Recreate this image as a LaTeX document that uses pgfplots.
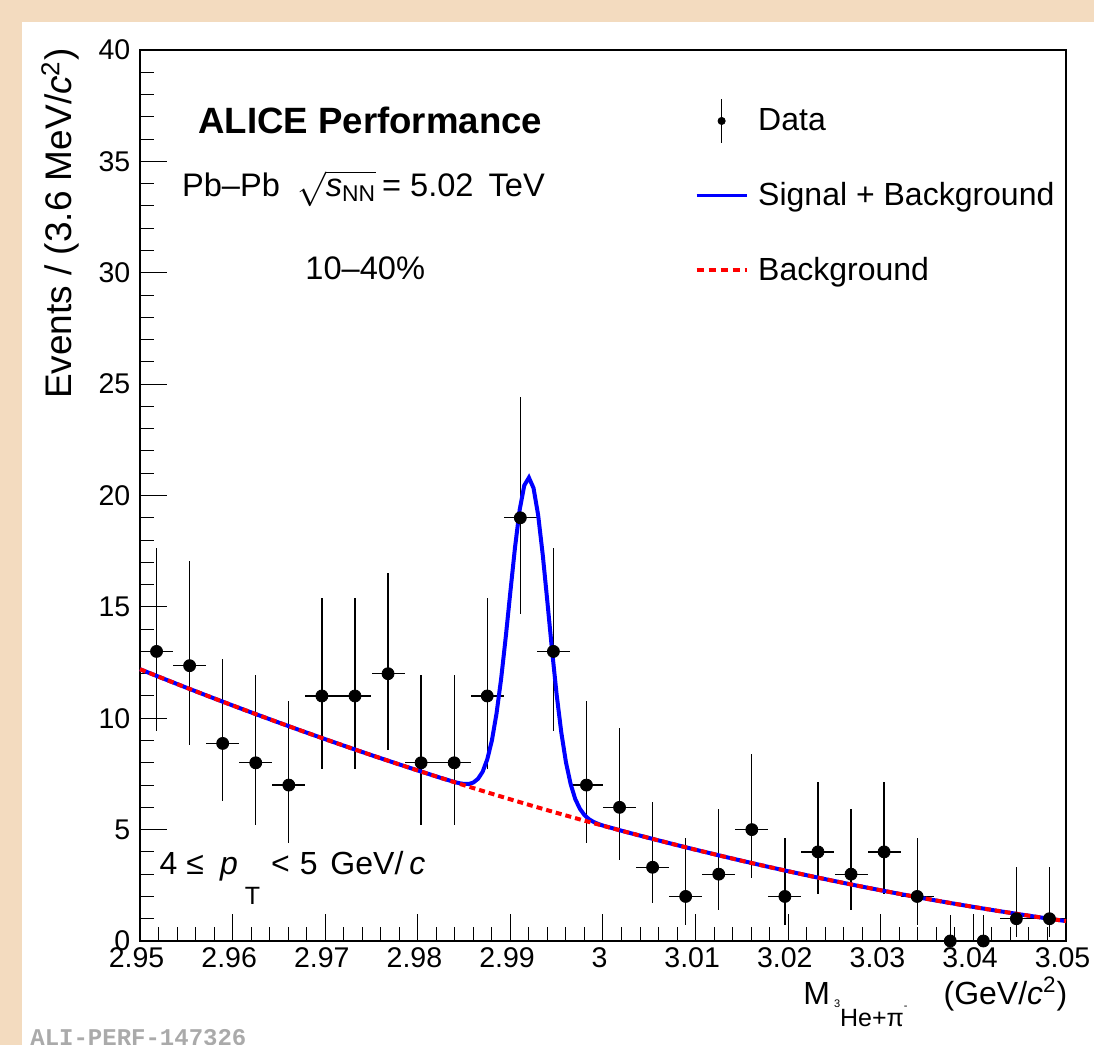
\documentclass[border=0pt]{standalone}
\usepackage{fontspec}
\setmainfont{Liberation Sans}
\newfontfamily\monofont{Liberation Mono}
\usepackage{amsmath}
\usepackage{pgfplots}
\pgfplotsset{compat=1.18}
\usepackage{pgfplotstable}
\definecolor{beige}{RGB}{243,219,191}
\definecolor{aligray}{RGB}{170,170,170}

\pgfplotstableread{
x y ex em ep
2.951786 13.00 0.001786 3.56 4.66
2.955357 12.36 0.001786 3.56 4.70
2.958929 8.87 0.001786 2.57 3.78
2.962500 8.00 0.001786 2.77 3.95
2.966071 7.00 0.001786 2.58 3.77
2.969643 11.00 0.001786 3.27 4.39
2.973214 11.00 0.001786 3.27 4.39
2.976786 12.00 0.001786 3.42 4.53
2.980357 8.00 0.001786 2.77 3.95
2.983929 8.00 0.001786 2.77 3.95
2.987500 11.00 0.001786 3.27 4.39
2.991071 19.00 0.001786 4.32 5.44
2.994643 13.00 0.001786 3.56 4.66
2.998214 7.00 0.001786 2.58 3.77
3.001786 6.00 0.001786 2.38 3.58
3.005357 3.31 0.001786 1.62 2.92
3.008929 2.00 0.001786 1.29 2.64
3.012500 3.00 0.001786 1.63 2.92
3.016071 5.00 0.001786 2.16 3.38
3.019643 2.00 0.001786 1.29 2.64
3.023214 4.00 0.001786 1.91 3.16
3.026786 3.00 0.001786 1.63 2.92
3.030357 4.00 0.001786 1.91 3.16
3.033929 2.00 0.001786 1.29 2.64
3.037500 0.00 0.001786 0.00 1.15
3.041071 0.00 0.001786 0.00 1.15
3.044643 1.00 0.001786 0.83 2.30
3.048214 1.00 0.001786 0.83 2.30
}\datatable

\pgfplotstableread{
x y
2.9500 12.200
2.9525 11.784
2.9550 11.374
2.9575 10.971
2.9600 10.575
2.9625 10.186
2.9650 9.804
2.9675 9.428
2.9700 9.060
2.9725 8.698
2.9750 8.343
2.9775 7.996
2.9800 7.655
2.9825 7.320
2.9850 6.993
2.9875 6.673
2.9900 6.359
2.9925 6.052
2.9950 5.752
2.9975 5.459
3.0000 5.173
3.0025 4.894
3.0050 4.622
3.0075 4.356
3.0100 4.098
3.0125 3.846
3.0150 3.601
3.0175 3.363
3.0200 3.132
3.0225 2.907
3.0250 2.690
3.0275 2.479
3.0300 2.276
3.0325 2.079
3.0350 1.889
3.0375 1.706
3.0400 1.530
3.0425 1.360
3.0450 1.198
3.0475 1.042
3.0500 0.893
}\bkgtable

\pgfplotstableread{
x y
2.9500 12.200
2.9525 11.784
2.9550 11.374
2.9575 10.971
2.9600 10.575
2.9625 10.186
2.9650 9.804
2.9675 9.428
2.9700 9.060
2.9725 8.698
2.9750 8.343
2.9775 7.996
2.9800 7.655
2.9825 7.320
2.9840 7.133
2.9845 7.083
2.9850 7.050
2.9855 7.048
2.9860 7.114
2.9865 7.280
2.9870 7.596
2.9875 8.152
2.9880 8.999
2.9885 10.207
2.9890 11.774
2.9895 13.651
2.9900 15.689
2.9905 17.677
2.9910 19.356
2.9915 20.454
2.9920 20.803
2.9925 20.332
2.9930 19.112
2.9935 17.311
2.9940 15.201
2.9945 13.041
2.9950 11.042
2.9955 9.353
2.9960 8.023
2.9965 7.055
2.9970 6.376
2.9975 5.938
2.9980 5.650
2.9985 5.463
2.9990 5.342
2.9995 5.253
3.0000 5.181
3.0025 4.894
3.0050 4.622
3.0075 4.356
3.0100 4.098
3.0125 3.846
3.0150 3.601
3.0175 3.363
3.0200 3.132
3.0225 2.907
3.0250 2.690
3.0275 2.479
3.0300 2.276
3.0325 2.079
3.0350 1.889
3.0375 1.706
3.0400 1.530
3.0425 1.360
3.0450 1.198
3.0475 1.042
3.0500 0.893
}\sbtable

\begin{document}
\begin{tikzpicture}
\begin{scope}[x=0.5pt,y=-0.5pt,shift={(-70pt,470.5pt)}]
  \fill[beige] (0,0) rectangle (1094,1045);
  \fill[white] (22,22) rectangle (1094,1045);
\end{scope}
\begin{axis}[
  scale only axis, width=463pt, height=445.5pt,
  xmin=2.95, xmax=3.05, ymin=0, ymax=40,
  clip=false,
  axis line style={line width=0.8pt},
  xtick={2.95,2.96,2.97,2.98,2.99,3.00,3.01,3.02,3.03,3.04,3.05},
  xticklabels={2.95,2.96,2.97,2.98,2.99,3,3.01,3.02,3.03,3.04,3.05},
  ytick={0,5,10,15,20,25,30,35,40},
  minor x tick num=4, minor y tick num=4,
  tick align=inside, xtick pos=left, ytick pos=left,
  major tick length=13.5pt, minor tick length=6.8pt,
  every tick/.style={black, line width=0.5pt},
  ticklabel style={font=\fontsize{14.25}{17}\selectfont},
  /pgf/number format/assume math mode=true,
  yticklabel style={xshift=-1.3pt},
  xticklabel style={xshift=-1.7pt},
  scaled x ticks=false,
  legend cell align=left,
  legend style={at={(axis description cs:0.5994,0.9473)}, anchor=north west,
    draw=none, fill=none, inner sep=0pt, outer sep=0pt,
    font=\fontsize{16}{19}\selectfont, row sep=13.25pt, column sep=5pt,
    nodes={inner sep=0pt}},
]
\addplot[black, only marks, mark=*, mark size=3pt, mark options={fill=black},
  legend image code/.code={
    \path[draw=none, fill=none] (0pt,-12pt) rectangle (25pt,12pt);
    \draw[black, line width=0.65pt] (12.5pt,-11pt) -- (12.5pt,11pt);
    \fill[black] (12.5pt,0pt) circle (1.8pt);
  },
  error bars/.cd, x dir=both, x explicit, y dir=both, y explicit,
  error bar style={line width=0.65pt, black}, error mark=none]
  table[x=x, y=y, x error=ex, y error plus=ep, y error minus=em] {\datatable};
\addlegendentry{Data}
\addplot[blue, line width=2pt, no markers,
  legend image code/.code={
    \path[draw=none, fill=none] (0pt,-12pt) rectangle (25pt,12pt);
    \draw[blue, line width=1.6pt] (0pt,0pt) -- (25pt,0pt);
  }] table[x=x, y=y] {\sbtable};
\addlegendentry{Signal + Background}
\addplot[red, line width=2pt, no markers, dash pattern=on 3pt off 2pt,
  legend image code/.code={
    \path[draw=none, fill=none] (0pt,-12pt) rectangle (25pt,12pt);
    \draw[red, line width=1.6pt, dash pattern=on 3.5pt off 2.5pt] (0pt,0pt) -- (25pt,0pt);
  }] table[x=x, y=y] {\bkgtable};
\addlegendentry{Background}
\end{axis}
\begin{scope}[x=0.5pt,y=-0.5pt,shift={(-70pt,470.5pt)}]
  \node[anchor=base west, inner sep=0pt, font=\bfseries\fontsize{18.3}{22}\selectfont] at (198,134) {ALICE Performance};
  \node[anchor=base west, inner sep=0pt, font=\fontsize{16.3}{19}\selectfont] at (181.7,196.7) {Pb–Pb\hspace{4pt} $\sqrt{\textit{s}_{\text{NN}}}$\hspace{3pt}= 5.02\hspace{3pt} TeV};
  \node[anchor=base west, inner sep=0pt, font=\fontsize{16.3}{19}\selectfont] at (305,280) {10–40\%};
  \node[anchor=base west, inner sep=0pt, font=\fontsize{16}{19}\selectfont] at (159.3,875) {4\hspace{4.5pt}≤\hspace{8pt}\textit{p}\hspace{3.5pt}\raisebox{-15pt}{\fontsize{12.5}{14}\selectfont T}\hspace{5.5pt}<\hspace{5pt}5 \hspace{2pt}GeV/\hspace{3pt}\textit{c}};
  \node[anchor=base west, inner sep=0pt, font=\fontsize{16}{19}\selectfont] at (803,1005) {M\hspace{2pt}\raisebox{-11pt}{\fontsize{12.5}{14}\selectfont\raisebox{9.5pt}{\fontsize{5.5}{6}\selectfont 3}He+π\raisebox{8.5pt}{\fontsize{5.5}{6}\selectfont -}}\hspace{18pt}(GeV/\textit{c}\textsuperscript{2})};
  \node[rotate=90, anchor=base east, inner sep=0pt, font=\fontsize{18.5}{22}\selectfont] at (72,48) {Events / (3.6 MeV/\textit{c}\textsuperscript{2})};
  \node[anchor=base west, inner sep=0pt, font=\monofont\bfseries\fontsize{12}{14}\selectfont, text=aligray] at (30,1046) {ALI-PERF-147326};
\end{scope}
\pgfresetboundingbox
\path[use as bounding box] (-70pt,-52pt) rectangle (477pt,470.5pt);
\end{tikzpicture}
\end{document}
